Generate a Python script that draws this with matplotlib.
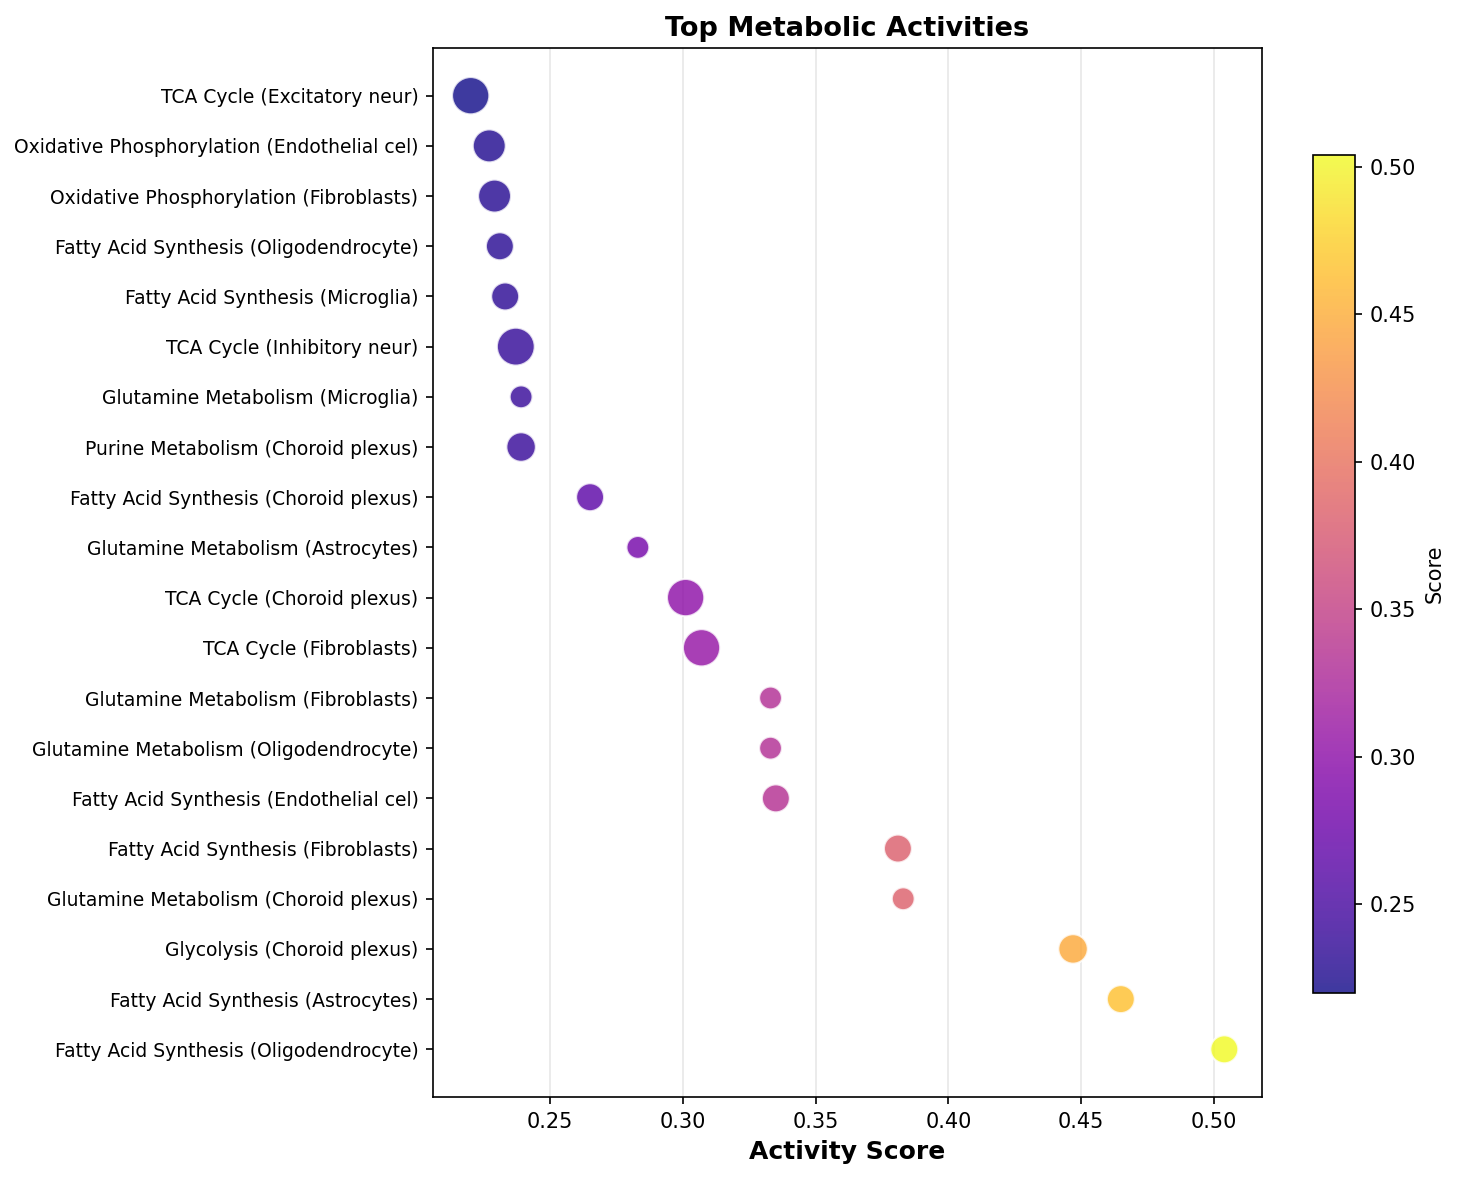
import matplotlib.pyplot as plt
import numpy as np

labels = [
    "TCA Cycle (Excitatory neur)",
    "Oxidative Phosphorylation (Endothelial cel)",
    "Oxidative Phosphorylation (Fibroblasts)",
    "Fatty Acid Synthesis (Oligodendrocyte)",
    "Fatty Acid Synthesis (Microglia)",
    "TCA Cycle (Inhibitory neur)",
    "Glutamine Metabolism (Microglia)",
    "Purine Metabolism (Choroid plexus)",
    "Fatty Acid Synthesis (Choroid plexus)",
    "Glutamine Metabolism (Astrocytes)",
    "TCA Cycle (Choroid plexus)",
    "TCA Cycle (Fibroblasts)",
    "Glutamine Metabolism (Fibroblasts)",
    "Glutamine Metabolism (Oligodendrocyte)",
    "Fatty Acid Synthesis (Endothelial cel)",
    "Fatty Acid Synthesis (Fibroblasts)",
    "Glutamine Metabolism (Choroid plexus)",
    "Glycolysis (Choroid plexus)",
    "Fatty Acid Synthesis (Astrocytes)",
    "Fatty Acid Synthesis (Oligodendrocyte)",
]
scores = [0.220, 0.227, 0.229, 0.231, 0.233, 0.237, 0.239, 0.239, 0.265, 0.283,
          0.301, 0.307, 0.333, 0.333, 0.335, 0.381, 0.383, 0.447, 0.465, 0.504]
sizes = [320, 250, 250, 180, 180, 330, 120, 200, 180, 120,
         320, 320, 120, 120, 180, 180, 120, 200, 180, 180]

fig = plt.figure(figsize=(1459 / 150, 1180 / 150), dpi=150)
ax = fig.add_axes([433 / 1459, 1 - 1097 / 1180, (1262 - 433) / 1459, (1097 - 48) / 1180])
cax = fig.add_axes([1313 / 1459, 1 - 993 / 1180, (1355 - 1313) / 1459, (993 - 155) / 1180])

y = np.arange(len(labels))
sc = ax.scatter(scores, y, s=sizes, c=scores, cmap='plasma', alpha=0.8,
                edgecolors='white', linewidths=1, vmin=min(scores), vmax=max(scores), zorder=3)
ax.set_yticks(y)
ax.set_yticklabels(labels, fontsize=9)
ax.invert_yaxis()
ax.grid(axis='x', alpha=0.3)
ax.set_xlabel('Activity Score', fontsize=12, fontweight='bold')
ax.set_title('Top Metabolic Activities', fontsize=13, fontweight='bold')
cb = fig.colorbar(sc, cax=cax)
cb.set_label('Score')
fig.savefig('out.png', dpi=150)
